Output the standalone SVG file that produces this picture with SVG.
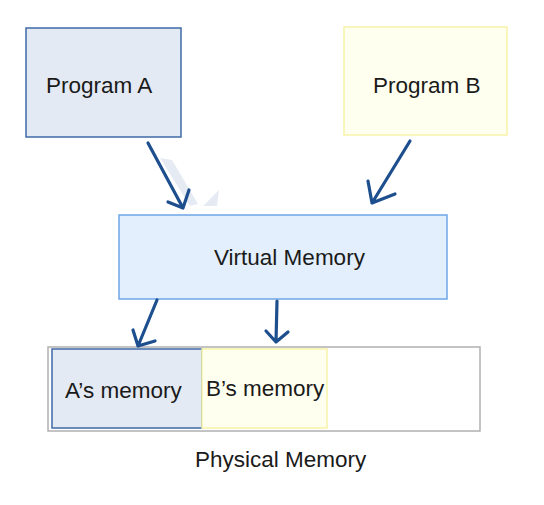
<svg xmlns="http://www.w3.org/2000/svg" width="544" height="505" viewBox="0 0 544 505">
<style>
text{font-family:"Liberation Sans",Arial,sans-serif;font-size:22.5px;fill:#1a1a1a}
.a{fill:#e4eaf3;stroke:#3f6aa6;stroke-width:1.5}
.b{fill:#fffff0;stroke:#f6f3a6;stroke-width:1.5}
.v{fill:#e3effc;stroke:#6ea6e6;stroke-width:1.5}
.c{fill:none;stroke:#1d4f8f;stroke-width:3.2;stroke-linecap:round;stroke-linejoin:round}
</style>
<rect width="544" height="505" fill="#fff"/>
<g id="ghost" fill="#e6ebf3">
<polygon points="160,158 172,160 198,204 190,206"/>
<polygon points="203,206 219,190 217,206"/>
</g>
<g id="programA"><rect class="a" x="26" y="28" width="155" height="109"/><text x="46" y="93">Program A</text></g>
<g id="programB"><rect class="b" x="344" y="27" width="163" height="108"/><text x="373" y="93">Program B</text></g>
<g id="virtual"><rect class="v" x="119" y="215" width="328" height="84"/><text x="214" y="265">Virtual Memory</text></g>
<g id="physical">
<rect x="48" y="347" width="432" height="84" fill="#fff" stroke="#b0b0b0" stroke-width="1.5"/>
<rect class="a" x="52" y="349" width="150" height="79"/>
<rect class="b" x="202" y="349" width="125" height="79"/>
<text x="65" y="398">A’s memory</text>
<text x="206" y="396">B’s memory</text>
<text x="195" y="467">Physical Memory</text>
</g>
<g id="connectors">
<path class="c" d="M148,143 L183,208 M168,202 L183,208 L189,190"/>
<path class="c" d="M410,141 L372,203 M368,181 L372,203 L395,194"/>
<path class="c" d="M157,300 L138,346 M133,330 L138,346 L155,341"/>
<path class="c" d="M277,301 L276,342 M266,331 L276,342 L288,332"/>
</g>
</svg>
